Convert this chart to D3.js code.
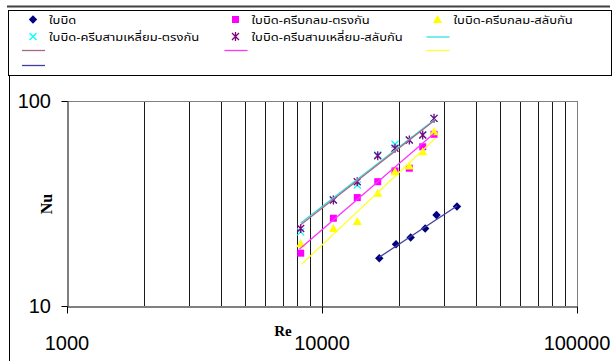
<!DOCTYPE html>
<html>
<head>
<meta charset="utf-8">
<script src="https://cdn.jsdelivr.net/npm/d3@7"></script>
<style>
  html, body { margin: 0; padding: 0; background: #fff; }
  svg { display: block; }
  .thai { font-family: "Noto Sans Thai", Tahoma, "Noto Sans", "DejaVu Sans", sans-serif; font-size: 11px; fill: #000; }
  .tick { font-family: "Liberation Sans", Arial, sans-serif; font-size: 20px; fill: #000; }
  .title { font-family: "Liberation Serif", "Times New Roman", serif; font-weight: bold; fill: #000; }
</style>
</head>
<body>
<svg id="chart" width="616" height="361"></svg>
<script>
// Measured Nusselt number vs Reynolds number for each tube configuration
const reTwist = [16775, 19506, 22270, 25390, 28120, 33830];
const nuTwist = [17.1, 20.0, 21.6, 23.9, 27.8, 30.6];

const reFinned = [8250, 11080, 13750, 16540, 19330, 22000, 24830, 27500];
const nuCircInline = [18.1, 26.8, 33.8, 40.4, 45.6, 47.0, 59.8, 68.8];
const nuCircStag = [20.1, 23.9, 25.8, 35.5, 45.2, 48.2, 56.6, 70.8];
const nuTriInline = [23.0, 32.9, 38.9, 54.5, 61.5, 64.5, 68.3, 82.3];
const nuTriStag = [23.9, 32.9, 40.4, 54.1, 58.8, 64.5, 68.3, 82.3];

// Correlation lines (end points Re, Nu)
const fitTriInlineRe = [8253, 27750], fitTriInlineNu = [25.4, 81.4];
const fitTriStagRe = [8253, 27750], fitTriStagNu = [24.9, 80.8];
const fitCircInlineRe = [8150, 27570], fitCircInlineNu = [18.9, 69.6];
const fitCircStagRe = [8325, 27830], fitCircStagNu = [16.0, 65.8];
const fitTwistRe = [16775, 33830], fitTwistNu = [17.3, 30.75];

const seriesNames = [
  "ใบบิด",
  "ใบบิด-ครีบกลม-ตรงกัน",
  "ใบบิด-ครีบกลม-สลับกัน",
  "ใบบิด-ครีบสามเหลี่ยม-ตรงกัน",
  "ใบบิด-ครีบสามเหลี่ยม-สลับกัน"
];
const xTickLabels = [1000, 10000, 100000];
const yTickLabels = [10, 100];

const svg = d3.select("#chart");

const x = d3.scaleLog().domain([1000, 100000]).range([67, 577]);
const y = d3.scaleLog().domain([10, 100]).range([306, 101]);

// outer frame
svg.append("line").attr("x1", 7).attr("x2", 610).attr("y1", 6.5).attr("y2", 6.5)
  .attr("stroke", "#404040").attr("stroke-width", 2);
svg.append("line").attr("x1", 9.5).attr("x2", 9.5).attr("y1", 75).attr("y2", 361)
  .attr("stroke", "#000").attr("stroke-width", 1);

// vertical gridlines at every major and minor decade step
const gridVals = [];
for (let d = 1000; d < 100000; d *= 10) {
  for (let k = 1; k < 10; k++) gridVals.push(d * k);
}
svg.append("g").selectAll("line").data(gridVals.filter(v => v > 1000)).join("line")
  .attr("x1", d => Math.round(x(d)) + 0.5).attr("x2", d => Math.round(x(d)) + 0.5)
  .attr("y1", y(100)).attr("y2", y(10))
  .attr("stroke", "#1a1a1a").attr("stroke-width", 1);

// plot border: top and right in grey
svg.append("line").attr("x1", 62).attr("x2", 577.5).attr("y1", 101.5).attr("y2", 101.5)
  .attr("stroke", "#808080");
svg.append("line").attr("x1", 577.5).attr("x2", 577.5).attr("y1", 101).attr("y2", 306)
  .attr("stroke", "#808080");

// axes
const xAxis = d3.axisBottom(x).tickValues(xTickLabels).tickFormat("").tickSizeInner(7).tickSizeOuter(0);
svg.append("g").attr("transform", "translate(0,306.5)").call(xAxis)
  .call(g => g.select(".domain").attr("stroke", "#000"))
  .call(g => g.selectAll(".tick line").attr("stroke", "#000"));
const yAxis = d3.axisLeft(y).tickValues(yTickLabels).tickFormat("").tickSizeInner(6).tickSizeOuter(0);
svg.append("g").attr("transform", "translate(67.5,0)").call(yAxis)
  .call(g => g.select(".domain").attr("stroke", "#000"))
  .call(g => g.selectAll(".tick line").attr("stroke", "#000"));

// tick labels
svg.append("g").selectAll("text").data(xTickLabels).join("text")
  .attr("class", "tick").attr("text-anchor", "middle")
  .attr("x", d => x(d)).attr("y", 350).text(d => d);
svg.append("g").selectAll("text").data(yTickLabels).join("text")
  .attr("class", "tick").attr("text-anchor", "end")
  .attr("x", 51).attr("y", d => y(d) + 7).text(d => d);

// axis titles
svg.append("text").attr("class", "title").attr("font-size", 15)
  .attr("x", 283).attr("y", 336).attr("text-anchor", "middle").text("Re");
svg.append("text").attr("class", "title").attr("font-size", 16)
  .attr("transform", "translate(52,204) rotate(-90)")
  .attr("text-anchor", "middle").text("Nu");

// marker shapes
const markers = {
  diamond: g => g.append("path").attr("d", "M0,-4.2L4.2,0L0,4.2L-4.2,0Z").attr("fill", "#000080"),
  square: g => g.append("rect").attr("x", -3.5).attr("y", -3.5).attr("width", 7).attr("height", 7).attr("fill", "#ff00ff"),
  triangle: g => g.append("path").attr("d", "M0,-4.5L4.5,3.5L-4.5,3.5Z").attr("fill", "#ffff00"),
  cross: g => g.append("path").attr("d", "M-3.5,-3.5L3.5,3.5M3.5,-3.5L-3.5,3.5")
    .attr("stroke", "#00ffff").attr("stroke-width", 1.3).attr("fill", "none"),
  star: g => g.append("path").attr("d", "M-3.5,-3.5L3.5,3.5M3.5,-3.5L-3.5,3.5M0,-4.5L0,4.5")
    .attr("stroke", "#800080").attr("stroke-width", 1.3).attr("fill", "none")
};

const pointSeries = [
  { re: reTwist, nu: nuTwist, shape: "diamond" },
  { re: reFinned, nu: nuCircInline, shape: "square" },
  { re: reFinned, nu: nuCircStag, shape: "triangle" },
  { re: reFinned, nu: nuTriInline, shape: "cross" },
  { re: reFinned, nu: nuTriStag, shape: "star" }
];

const lineSeries = [
  { re: fitTriInlineRe, nu: fitTriInlineNu, color: "#30e0e0" },
  { re: fitTriStagRe, nu: fitTriStagNu, color: "#a86888" },
  { re: fitCircInlineRe, nu: fitCircInlineNu, color: "#ff33ff" },
  { re: fitCircStagRe, nu: fitCircStagNu, color: "#ffff33" },
  { re: fitTwistRe, nu: fitTwistNu, color: "#4040a0" }
];

pointSeries.forEach(s => {
  const pts = s.re.map((r, i) => [r, s.nu[i]]);
  svg.append("g").selectAll("g").data(pts).join("g")
    .attr("transform", d => `translate(${x(d[0])},${y(d[1])})`)
    .each(function () { markers[s.shape](d3.select(this)); });
});

const line = d3.line().x(d => x(d[0])).y(d => y(d[1]));
lineSeries.forEach(s => {
  const pts = s.re.map((r, i) => [r, s.nu[i]]);
  svg.append("path").datum(pts).attr("d", line)
    .attr("fill", "none").attr("stroke", s.color).attr("stroke-width", 1.3);
});

// legend
const legend = svg.append("g");
legend.append("rect").attr("x", 8.5).attr("y", 10.5).attr("width", 603).attr("height", 65)
  .attr("fill", "#fff").attr("stroke", "#000");

const colX = [33, 235.5, 437.5];
const rowY = [19.5, 36.5, 50, 65];
const textDx = 16;

// marker entries fill the rows first, then the line entries
const entries = [];
pointSeries.forEach((s, i) => entries.push({ kind: "marker", shape: s.shape, label: seriesNames[i] }));
lineSeries.forEach(s => entries.push({ kind: "line", color: s.color }));

entries.forEach((e, i) => {
  const cx = colX[i % 3], cy = rowY[Math.floor(i / 3)];
  const g = legend.append("g").attr("transform", `translate(${cx},${cy})`);
  if (e.kind === "marker") {
    markers[e.shape](g);
    g.append("text").attr("class", "thai")
      .attr("transform", `translate(${textDx},4) scale(1.18,1)`).text(e.label);
  } else {
    g.append("line").attr("x1", -11).attr("x2", 12).attr("y1", 0.5).attr("y2", 0.5)
      .attr("stroke", e.color).attr("stroke-width", 1.3);
  }
});
</script>
</body>
</html>
